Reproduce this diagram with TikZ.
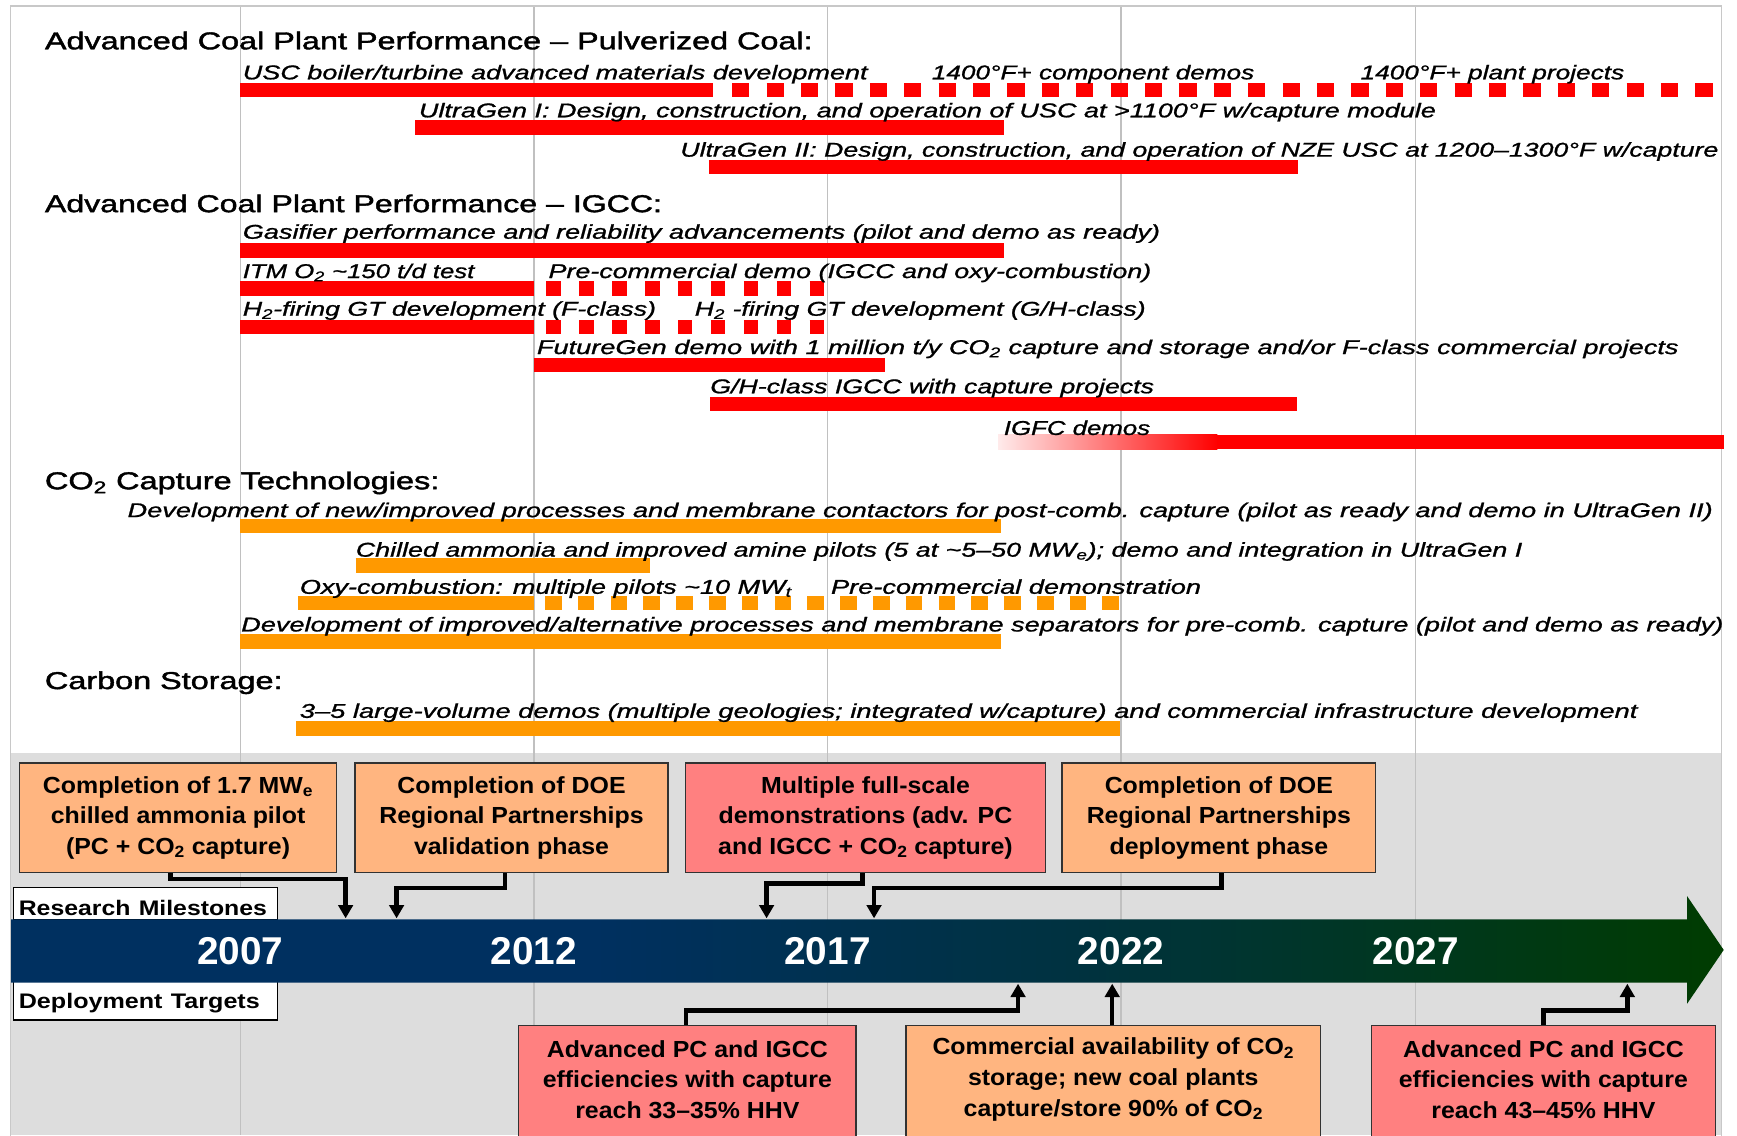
\documentclass[tikz,border=0pt]{standalone}
\usepackage{fontspec}
\usepackage{graphicx}
\setmainfont{Liberation Sans}
\newfontfamily\headfamily[Ligatures=TeX,FakeBold=1.5]{Liberation Sans}
\newfontfamily\rowfamily[Ligatures=TeX,FakeBold=0.9]{Liberation Sans}
\newfontfamily\boxfamily[Ligatures=TeX,FakeStretch=1.07]{Liberation Sans}
\usetikzlibrary{arrows.meta,calc}

\definecolor{barred}{RGB}{255,0,0}
\definecolor{barorange}{RGB}{255,153,0}
\definecolor{peach}{RGB}{255,181,128}
\definecolor{salmon}{RGB}{255,128,128}
\definecolor{panelgray}{RGB}{221,221,221}
\definecolor{gridgray}{RGB}{192,192,192}
\definecolor{framegray}{RGB}{200,200,200}
\definecolor{boxedge}{RGB}{50,50,50}
\definecolor{tlnavy}{RGB}{0,48,96}
\definecolor{tlteal}{RGB}{0,50,64}
\definecolor{tlgreen}{RGB}{0,60,0}

% colour run of the time axis, left to right
\pgfdeclarehorizontalshading{timeline}{100bp}{color(0bp)=(tlnavy); color(25bp)=(tlnavy);
  color(42bp)=(tlnavy); color(56bp)=(tlteal); color(75bp)=(tlgreen); color(100bp)=(tlgreen)}

% set a line of text to a given width (in pt), keeping its height
\newcommand\fitw[2]{\resizebox{#1pt}{\height}{#2}}

\begin{document}
\begin{tikzpicture}[x=1pt,y=-1pt,line join=miter,
  heading/.style={anchor=base west,inner sep=0pt,font=\headfamily\fontsize{22}{26}\selectfont},
  item/.style={anchor=base west,inner sep=0pt,font=\rowfamily\fontsize{18}{22}\selectfont\itshape},
  bar/.style={line width=13pt},
  redbar/.style={bar,draw=barred},
  orangebar/.style={bar,draw=barorange},
  milebox/.style={draw=boxedge,line width=1.5pt,inner sep=0pt,align=center,
    anchor=north west,minimum height=99pt,
    font=\boxfamily\bfseries\fontsize{21}{27.7}\selectfont},
  targetbox/.style={draw=boxedge,line width=1.5pt,inner sep=0pt,anchor=north,minimum height=140pt},
  boxtext/.style={inner sep=0pt,align=center,font=\boxfamily\bfseries\fontsize{21}{27.7}\selectfont},
  sidelabel/.style={anchor=base west,draw=black,fill=white,line width=1.2pt,
    inner xsep=5pt,inner ysep=0pt,text width=228.6pt,align=left,
    font=\bfseries\fontsize{19}{22}\selectfont},
  year/.style={anchor=base,inner sep=0pt,text=white,font=\bfseries\fontsize{35}{40}\selectfont},
  conn/.style={line width=4pt,-{Triangle[width=13pt,length=12pt]}},
  gridline/.style={draw=gridgray,line width=1.2pt}]

\useasboundingbox (0,0) rectangle (1568,1025);
\clip (0,0) rectangle (1568,1025);

% page, milestone panel, year grid and frame
\fill[white] (0,0) rectangle (1568,1025);
\fill[panelgray] (9.5,680) rectangle (1554,1025);
\foreach \gx in {217,482,747,1012,1278}
  \draw[gridline] (\gx,5) -- (\gx,1025);
\draw[framegray,line width=1.5pt] (9.5,1030) -- (9.5,5.5) -- (1554,5.5) -- (1554,1030);

% ---------- Pulverized coal ----------
\node[heading] (hpc) at (40.4,44.5) {\fitw{693}{Advanced Coal Plant Performance -- Pulverized Coal:}};
\draw[redbar] (217,81) -- (644,81);
\draw[redbar,dash pattern=on 15.5pt off 15.55pt] (661,81) -- (1546,81);
\node[item] (pc1a) at (219,71.6) {\fitw{564}{USC boiler/turbine advanced materials development}};
\node[item] (pc1b) at (841,71.6) {\fitw{291}{1400°F+ component demos}};
\node[item] (pc1c) at (1228,71.6) {\fitw{238}{1400°F+ plant projects}};
\draw[redbar] (375,115) -- (906,115);
\node[item] (pc2) at (378,105.9) {\fitw{918}{UltraGen I: Design, construction, and operation of USC at >1100°F w/capture module}};
\draw[redbar] (640,151) -- (1172,151);
\node[item] (pc3) at (614,141.4) {\fitw{937}{UltraGen II: Design, construction, and operation of NZE USC at 1200--1300°F w/capture}};

% ---------- IGCC ----------
\node[heading] (higcc) at (40.4,191.5) {\fitw{557}{Advanced Coal Plant Performance -- IGCC:}};
\draw[redbar] (217,226) -- (906,226);
\node[item] (ia) at (219,215.5) {\fitw{828}{Gasifier performance and reliability advancements (pilot and demo as ready)}};
\draw[redbar] (217,260.5) -- (482,260.5);
\draw[redbar,dash pattern=on 13pt off 16.7pt] (493.3,260.5) -- (746,260.5);
\node[item] (ib1) at (219,251) {\fitw{209}{ITM O\textsubscript{2} \textasciitilde150 t/d test}};
\node[item] (ib2) at (495,251) {\fitw{544}{Pre-commercial demo (IGCC and oxy-combustion)}};
\draw[redbar] (217,295) -- (482,295);
\draw[redbar,dash pattern=on 13pt off 16.7pt] (493.3,295) -- (746,295);
\node[item] (ic1) at (219,285) {\fitw{373}{H\textsubscript{2}-firing GT development (F-class)}};
\node[item] (ic2) at (627,285) {\fitw{407}{H\textsubscript{2} -firing GT development (G/H-class)}};
\draw[redbar] (482,329.5) -- (799,329.5);
\node[item] (id) at (484.5,319.6) {\fitw{1030.5}{FutureGen demo with 1 million t/y CO\textsubscript{2} capture and storage and/or F-class commercial projects}};
\draw[redbar] (641,364.5) -- (1171,364.5);
\node[item] (ie) at (641,355) {\fitw{400.5}{G/H-class IGCC with capture projects}};
\shade[left color=barred!8,right color=barred] (901,392.5) rectangle (1099,405.5);
\draw[redbar] (1099,399) -- (1556,399);
\node[item] (if) at (906,392.6) {\fitw{132}{IGFC demos}};

% ---------- CO2 capture ----------
\node[heading] (hco2) at (40.4,441.6) {\fitw{356}{CO\textsubscript{2} Capture Technologies:}};
\draw[orangebar] (217,475) -- (904,475);
\node[item] (ca) at (115,466.8) {\fitw{1431}{Development of new/improved processes and membrane contactors for post-comb. capture (pilot as ready and demo in UltraGen II)}};
\draw[orangebar] (321,510.5) -- (587,510.5);
\node[item] (cb) at (321,502.5) {\fitw{1053}{Chilled ammonia and improved amine pilots (5 at \textasciitilde5--50 MW\textsubscript{e}); demo and integration in UltraGen I}};
\draw[orangebar] (269,544.5) -- (482,544.5);
\draw[orangebar,dash pattern=on 15pt off 14.6pt] (492,544.5) -- (1012,544.5);
\node[item] (cc1) at (270.5,536) {\fitw{444}{Oxy-combustion: multiple pilots \textasciitilde10 MW\textsubscript{t}}};
\node[item] (cc2) at (750,536) {\fitw{334}{Pre-commercial demonstration}};
\draw[orangebar] (217,579) -- (904,579);
\node[item] (cd) at (217.6,570) {\fitw{1338}{Development of improved/alternative processes and membrane separators for pre-comb. capture (pilot and demo as ready)}};

% ---------- Carbon storage ----------
\node[heading] (hcs) at (40.4,622) {\fitw{214.5}{Carbon Storage:}};
\draw[orangebar] (267,657.5) -- (1011,657.5);
\node[item] (se) at (270.5,648) {\fitw{1207.5}{3--5 large-volume demos (multiple geologies; integrated w/capture) and commercial infrastructure development}};

% ---------- research milestones ----------
\node[milebox,fill=peach,minimum width=286pt] (b1) at (17,688)
  {Completion of 1.7 MW\textsubscript{e}\\chilled ammonia pilot\\(PC + CO\textsubscript{2} capture)};
\node[milebox,fill=peach,minimum width=282pt] (b2) at (320,688)
  {Completion of DOE\\Regional Partnerships\\validation phase};
\node[milebox,fill=salmon,minimum width=325pt] (b3) at (618,688)
  {Multiple full-scale\\demonstrations (adv. PC\\and IGCC + CO\textsubscript{2} capture)};
\node[milebox,fill=peach,minimum width=283pt] (b4) at (958,688)
  {Completion of DOE\\Regional Partnerships\\deployment phase};

% ---------- deployment targets ----------
\node[targetbox,fill=salmon,minimum width=305pt] (b5) at (620.5,925) {};
\node[boxtext] (b5t) at ([yshift=-49.5pt]b5.north)
  {Advanced PC and IGCC\\efficiencies with capture\\reach 33--35\% HHV};
\node[targetbox,fill=peach,minimum width=374pt] (b6) at (1005,925) {};
\node[boxtext] (b6t) at ([yshift=-49.5pt]b6.north)
  {Commercial availability of CO\textsubscript{2}\\storage; new coal plants\\capture/store 90\% of CO\textsubscript{2}};
\node[targetbox,fill=salmon,minimum width=310.5pt] (b7) at (1393.25,925) {};
\node[boxtext] (b7t) at ([yshift=-49.5pt]b7.north)
  {Advanced PC and IGCC\\efficiencies with capture\\reach 43--45\% HHV};

% points on the time axis that the connectors reach
\coordinate (m1) at (312,829);
\coordinate (m2) at (358,829);
\coordinate (m3) at (692,829);
\coordinate (m4) at (789,829);
\coordinate (t1) at (919,888);
\coordinate (t2) at (1004,888);
\coordinate (t3) at (1469,888);

\draw[conn] ([xshift=-7pt]b1.south) -- ++(0,5) -| (m1);
\draw[conn] ([xshift=-6pt]b2.south) -- ++(0,13) -| (m2);
\draw[conn] ([xshift=-2.5pt]b3.south) -- ++(0,9) -| (m3);
\draw[conn] ([xshift=2.5pt]b4.south) -- ++(0,13) -| (m4);
\draw[conn] ([xshift=-1.5pt]b5.north) -- ++(0,-13) -| (t1);
\draw[conn] (b6.north -| t2) -- (t2);
\draw[conn] (b7.north) -- ++(0,-13) -| (t3);

% side labels
\node[sidelabel,text height=25pt,text depth=4.5pt] (rm) at (11.4,826) {\fitw{224}{Research Milestones}};
\node[sidelabel,text height=24pt,text depth=10.8pt] (dt) at (11.4,910) {\fitw{217.5}{Deployment Targets}};

% time axis
\shade[shading=timeline] (10,830) -- (1523,830) -- (1523,809) -- (1556,857.5)
  -- (1523,906) -- (1523,887) -- (10,887) -- cycle;
\node[year] (y2007) at (217,871) {2007};
\node[year] (y2012) at (482,871) {2012};
\node[year] (y2017) at (747,871) {2017};
\node[year] (y2022) at (1012,871) {2022};
\node[year] (y2027) at (1278,871) {2027};
\end{tikzpicture}
\end{document}
